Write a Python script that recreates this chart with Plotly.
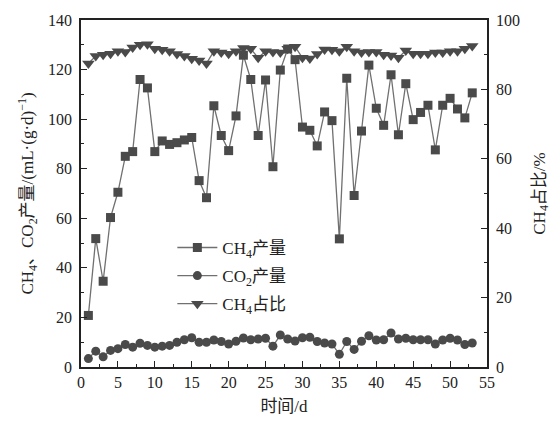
import plotly.graph_objects as go

days = list(range(1, 54))
ch4_prod = [20.8, 51.8, 34.6, 60.3, 70.5, 85.0, 86.9, 116.0, 112.6, 86.9,
            91.2, 89.8, 90.5, 91.6, 92.6, 75.2, 68.3, 105.4, 93.4, 87.3,
            101.3, 125.8, 116.0, 93.4, 115.8, 80.8, 119.8, 128.3, 124.0, 96.8,
            95.5, 89.2, 102.9, 99.4, 51.7, 116.5, 69.2, 95.2, 121.8, 104.4,
            97.5, 117.9, 93.7, 114.3, 99.8, 102.7, 105.6, 87.6, 105.6, 108.4,
            104.1, 100.5, 110.6]
co2_prod = [3.4, 6.4, 4.1, 6.7, 7.4, 9.1, 8.0, 9.6, 8.7, 8.0,
            8.4, 8.7, 10.0, 11.0, 11.8, 10.0, 10.0, 10.9, 10.3, 9.3,
            10.4, 11.7, 11.0, 11.3, 11.6, 8.4, 12.9, 11.3, 10.5, 11.8,
            12.0, 10.3, 9.7, 9.3, 5.1, 10.3, 7.1, 10.4, 12.6, 10.9,
            11.0, 13.7, 11.3, 11.6, 11.0, 11.0, 11.0, 9.3, 10.9, 11.6,
            10.9, 9.1, 9.7]
ch4_ratio = [87.5, 89.6, 90.0, 90.3, 91.0, 90.8, 92.1, 92.9, 93.0, 91.7,
             91.4, 91.0, 90.2, 89.6, 88.8, 88.3, 87.5, 91.0, 90.6, 90.3,
             91.0, 91.9, 91.7, 89.1, 91.0, 90.8, 90.6, 91.7, 92.3, 89.1,
             88.9, 90.2, 91.5, 91.4, 91.0, 92.3, 91.0, 90.6, 90.8, 90.8,
             90.0, 89.8, 89.1, 91.2, 90.3, 90.3, 90.3, 90.6, 90.6, 91.0,
             91.0, 91.7, 92.5]

names = ["CH<sub>4</sub>产量", "CO<sub>2</sub>产量", "CH<sub>4</sub>占比"]

FONT = "Liberation Serif, Noto Sans CJK SC, serif"
MC = "#4a4a4a"
LC = "#707070"

fig = go.Figure()
fig.add_trace(go.Scatter(x=days, y=ch4_prod, name=names[0], mode="lines+markers",
                         legendgroup="a",
                         line=dict(color=LC, width=1.3),
                         marker=dict(symbol="square", size=9, color=MC)))
fig.add_trace(go.Scatter(x=days, y=co2_prod, name=names[1], mode="lines+markers",
                         legendgroup="b",
                         line=dict(color=LC, width=1.3),
                         marker=dict(symbol="circle", size=9, color=MC)))
fig.add_trace(go.Scatter(x=days, y=ch4_ratio, name=names[2], mode="lines+markers",
                         yaxis="y2", legendgroup="c",
                         line=dict(color=LC, width=1.3),
                         marker=dict(symbol="triangle-down", size=11, color=MC)))

fig.update_layout(
    width=558, height=425,
    margin=dict(l=81, r=63, t=17, b=53),
    paper_bgcolor="white", plot_bgcolor="white",
    font=dict(family=FONT, size=16, color="#222"),
    showlegend=True,
    legend=dict(x=0.225, y=0.395, xanchor="left", yanchor="top",
                bgcolor="rgba(0,0,0,0)", font=dict(size=17),
                tracegroupgap=3, itemwidth=40),
    xaxis=dict(range=[0, 55], dtick=5, tick0=0, showgrid=False, zeroline=False,
               showline=True, linecolor="#222", linewidth=1.5, mirror=True,
               ticks="inside", ticklen=6, tickcolor="#222",
               minor=dict(ticks="inside", ticklen=3, dtick=2.5, tickcolor="#222"),
               title=dict(text="时间/d", standoff=10, font=dict(size=17))),
    yaxis=dict(range=[0, 140], dtick=20, showgrid=False, zeroline=False,
               showline=True, linecolor="#222", linewidth=1.5,
               ticks="inside", ticklen=6, tickcolor="#222", ticklabelstandoff=4,
               minor=dict(ticks="inside", ticklen=3, dtick=10, tickcolor="#222"),
               title=dict(text="CH<sub>4</sub>、CO<sub>2</sub>产量/(mL·(g·d)<sup>−1</sup>)",
                          standoff=10, font=dict(size=17))),
    yaxis2=dict(range=[0, 100], dtick=20, overlaying="y", side="right",
                showgrid=False, zeroline=False,
                showline=True, linecolor="#222", linewidth=1.5,
                ticks="inside", ticklen=6, tickcolor="#222", ticklabelstandoff=4,
                minor=dict(ticks="inside", ticklen=3, dtick=10, tickcolor="#222"),
                title=dict(text="CH<sub>4</sub>占比/%", standoff=14, font=dict(size=17))),
)

fig.write_html("out.html")
